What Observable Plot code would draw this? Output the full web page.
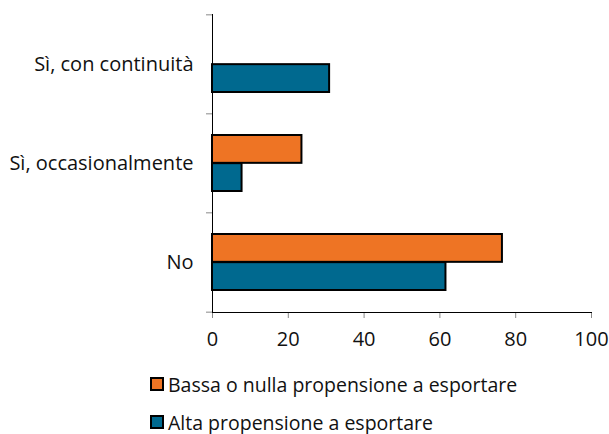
<!DOCTYPE html>
<html>
<head>
<meta charset="utf-8">
<script src="https://cdn.jsdelivr.net/npm/d3@7"></script>
<script src="https://cdn.jsdelivr.net/npm/@observablehq/plot@0.6"></script>
<style>
  body { margin: 0; background: #fff; font-family: "Open Sans", sans-serif; }
  #legend { padding-left: 150px; margin-top: 5px; font-size: 19.5px; color: #111; }
  .item { display: flex; align-items: center; height: 38px; }
  .sw { width: 10px; height: 10px; border: 2px solid #000; margin-right: 4px; }
</style>
</head>
<body>
<div id="chart"></div>
<div id="legend"></div>
<script>
const categories = ["Sì, con continuità", "Sì, occasionalmente", "No"];
const seriesNames = ["Bassa o nulla propensione a esportare", "Alta propensione a esportare"];
const seriesColors = ["#ee7424", "#00698f"];
const bassaValues = [null, 23.6, 76.5];
const altaValues = [30.9, 7.8, 61.6];
const xTicks = [0, 20, 40, 60, 80, 100];

const rows = [];
categories.forEach((c, i) => {
  if (bassaValues[i] != null) rows.push({cat: c, series: seriesNames[0], value: bassaValues[i]});
  if (altaValues[i] != null) rows.push({cat: c, series: seriesNames[1], value: altaValues[i]});
});

const width = 609, height = 360;
const mt = 14, mb = 48, ml = 212, mr = 18;
const pInner = 0.433, pOuter = pInner / 2;
const step = (height - mt - mb) / (categories.length - pInner + 2 * pOuter);
const bw = step * (1 - pInner);

const barOpts = {y: "cat", x: "value", fill: "series", stroke: "#000", strokeWidth: 2};

const plot = Plot.plot({
  width, height,
  marginTop: mt, marginBottom: mb, marginLeft: ml, marginRight: mr,
  style: {fontFamily: "Open Sans, sans-serif", fontSize: "20px", color: "#111", overflow: "visible"},
  x: {domain: [0, 100], label: null},
  y: {domain: categories, paddingInner: pInner, paddingOuter: pOuter, label: null},
  color: {domain: seriesNames, range: seriesColors},
  marks: [
    Plot.barX(rows.filter(d => d.series === seriesNames[0]), {...barOpts, insetBottom: bw / 2}),
    Plot.barX(rows.filter(d => d.series === seriesNames[1]), {...barOpts, insetTop: bw / 2}),
    Plot.axisY({tickSize: 0, tickPadding: 19, label: null, fontSize: 20}),
    Plot.axisY({tickSize: 6, tickFormat: () => "", label: null, dy: -step / 2, stroke: "#888"}),
    Plot.axisY([categories[categories.length - 1]], {tickSize: 6, tickFormat: () => "", label: null, dy: step / 2, stroke: "#888"}),
    Plot.axisX({ticks: xTicks, tickSize: 6, tickPadding: 13, label: null, stroke: "#888", fontSize: 20}),
    Plot.ruleX([0], {stroke: "#000"}),
    Plot.frame({anchor: "bottom", stroke: "#000"})
  ]
});
document.getElementById("chart").appendChild(plot);

const legend = document.getElementById("legend");
seriesNames.forEach((s, i) => {
  const it = document.createElement("div");
  it.className = "item";
  const sw = document.createElement("span");
  sw.className = "sw";
  sw.style.background = seriesColors[i];
  const t = document.createElement("span");
  t.textContent = s;
  it.appendChild(sw); it.appendChild(t);
  legend.appendChild(it);
});
</script>
</body>
</html>
